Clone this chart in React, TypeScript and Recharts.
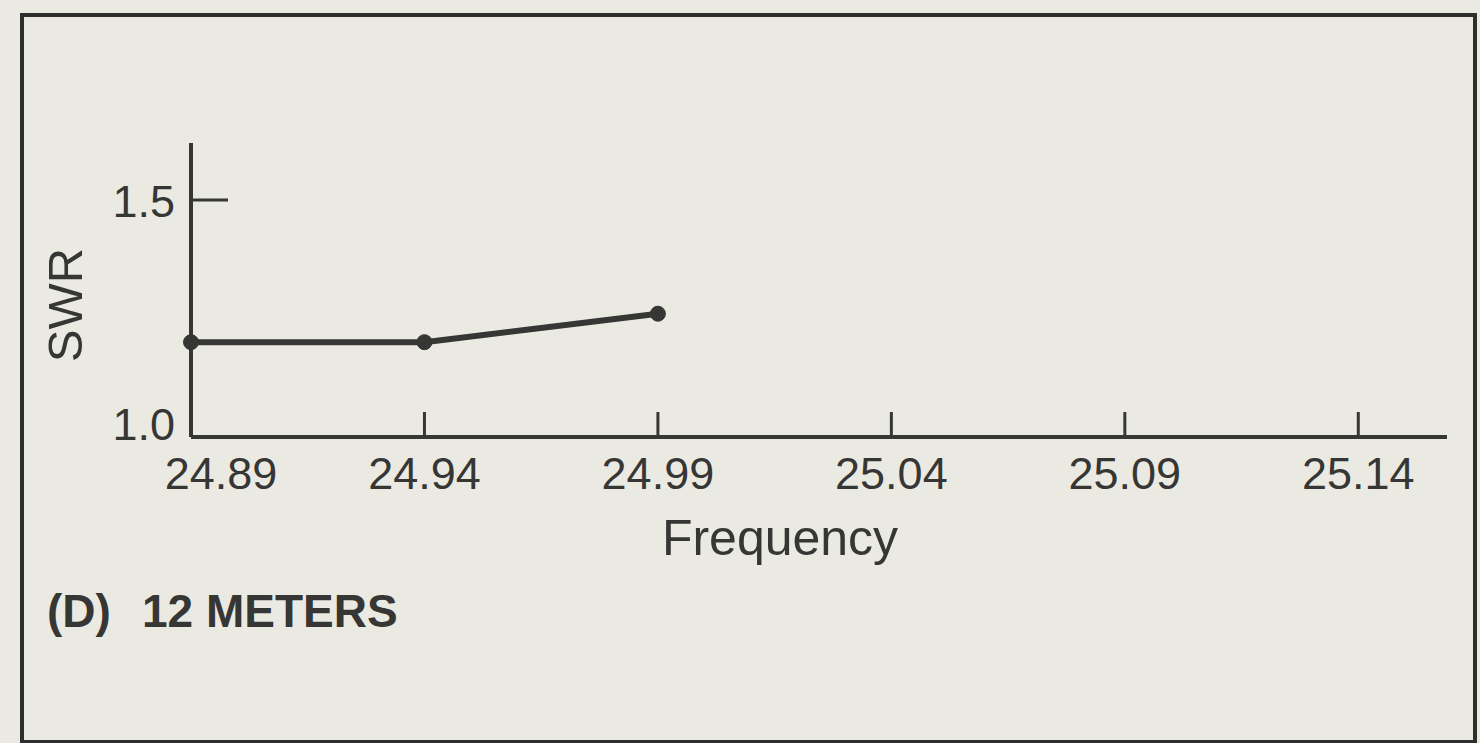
import React from "react";
import { LineChart, Line, XAxis, YAxis } from "recharts";

const frequencies = [24.89, 24.94, 24.99];
const swrValues = [1.2, 1.2, 1.26];
const xTicks = [24.89, 24.94, 24.99, 25.04, 25.09, 25.14];
const yTicks = [1.0, 1.5];
const xTickLabels = ["24.89", "24.94", "24.99", "25.04", "25.09", "25.14"];
const yTickLabels = ["1.0", "1.5"];
const xTitle = "Frequency";
const yTitle = "SWR";
const panelTag = "(D)";
const panelTitle = "12 METERS";

const data = frequencies.map((f, i) => ({ freq: f, swr: swrValues[i] }));

const INK = "#363634";
const BG = "#ebeae2";
const FONT = "'Liberation Sans', Arial, Helvetica, sans-serif";

const XTick = (props: any) => {
  const { x, y, index } = props;
  const dx = index === 0 ? 30 : 0;
  return (
    <g>
      <line x1={x} x2={x} y1={y} y2={y - 25} stroke={INK} strokeWidth={3} />
      <text
        x={x + dx}
        y={y + 52}
        textAnchor="middle"
        fontSize={45}
        fontFamily={FONT}
        fill={INK}
      >
        {xTickLabels[index]}
      </text>
    </g>
  );
};

const YTick = (props: any) => {
  const { x, y, index } = props;
  const dy = index === 0 ? 3 : 17;
  return (
    <g>
      {index > 0 && (
        <line x1={x} x2={x + 37} y1={y} y2={y} stroke={INK} strokeWidth={3} />
      )}
      <text
        x={x - 16}
        y={y + dy}
        textAnchor="end"
        fontSize={45}
        fontFamily={FONT}
        fill={INK}
      >
        {yTickLabels[index]}
      </text>
    </g>
  );
};

const XTitle = (props: any) => {
  const vb = props.viewBox || {};
  return (
    <text
      x={vb.x + vb.width / 2 - 39}
      y={vb.y + 118}
      textAnchor="middle"
      fontSize={50}
      fontFamily={FONT}
      fill={INK}
    >
      {xTitle}
    </text>
  );
};

const YTitle = (props: any) => {
  const vb = props.viewBox || {};
  const cx = vb.x + vb.width - 126;
  const cy = vb.y + vb.height / 2 + 15;
  return (
    <text
      x={cx}
      y={cy}
      textAnchor="middle"
      dominantBaseline="central"
      transform={`rotate(-90 ${cx} ${cy})`}
      fontSize={49}
      fontFamily={FONT}
      fill={INK}
    >
      {yTitle}
    </text>
  );
};

export default function App() {
  return (
    <div
      style={{
        position: "absolute",
        left: 0,
        top: 0,
        width: 1480,
        height: 743,
        background: BG,
        overflow: "hidden",
      }}
    >
      <LineChart
        width={1480}
        height={743}
        data={data}
        margin={{ top: 143, left: 131, right: 33, bottom: 276 }}
      >
        <XAxis
          dataKey="freq"
          type="number"
          domain={[24.89, 25.159]}
          ticks={xTicks}
          height={30}
          tickLine={false}
          tickSize={0}
          tickMargin={0}
          tick={<XTick />}
          interval={0}
          axisLine={{ stroke: INK, strokeWidth: 4 }}
          label={<XTitle />}
        />
        <YAxis
          type="number"
          domain={[1.0, 1.62]}
          ticks={yTicks}
          width={60}
          tickLine={false}
          tickSize={0}
          tickMargin={0}
          tick={<YTick />}
          interval={0}
          axisLine={{ stroke: INK, strokeWidth: 4 }}
          label={<YTitle />}
        />
        <Line
          type="linear"
          dataKey="swr"
          stroke={INK}
          strokeWidth={6}
          dot={{ r: 7.5, fill: INK, stroke: INK, strokeWidth: 1 }}
          isAnimationActive={false}
        />
      </LineChart>
      <svg
        width={1480}
        height={743}
        style={{ position: "absolute", left: 0, top: 0, pointerEvents: "none" }}
      >
        <rect
          x={22}
          y={15}
          width={1453}
          height={727}
          fill="none"
          stroke="#2e2e2c"
          strokeWidth={4}
        />
        <text
          x={47}
          y={627}
          fontSize={46}
          fontWeight="bold"
          fontFamily={FONT}
          fill={INK}
        >
          {panelTag}
        </text>
        <text
          x={142}
          y={627}
          fontSize={46}
          fontWeight="bold"
          fontFamily={FONT}
          fill={INK}
        >
          {panelTitle}
        </text>
      </svg>
    </div>
  );
}
